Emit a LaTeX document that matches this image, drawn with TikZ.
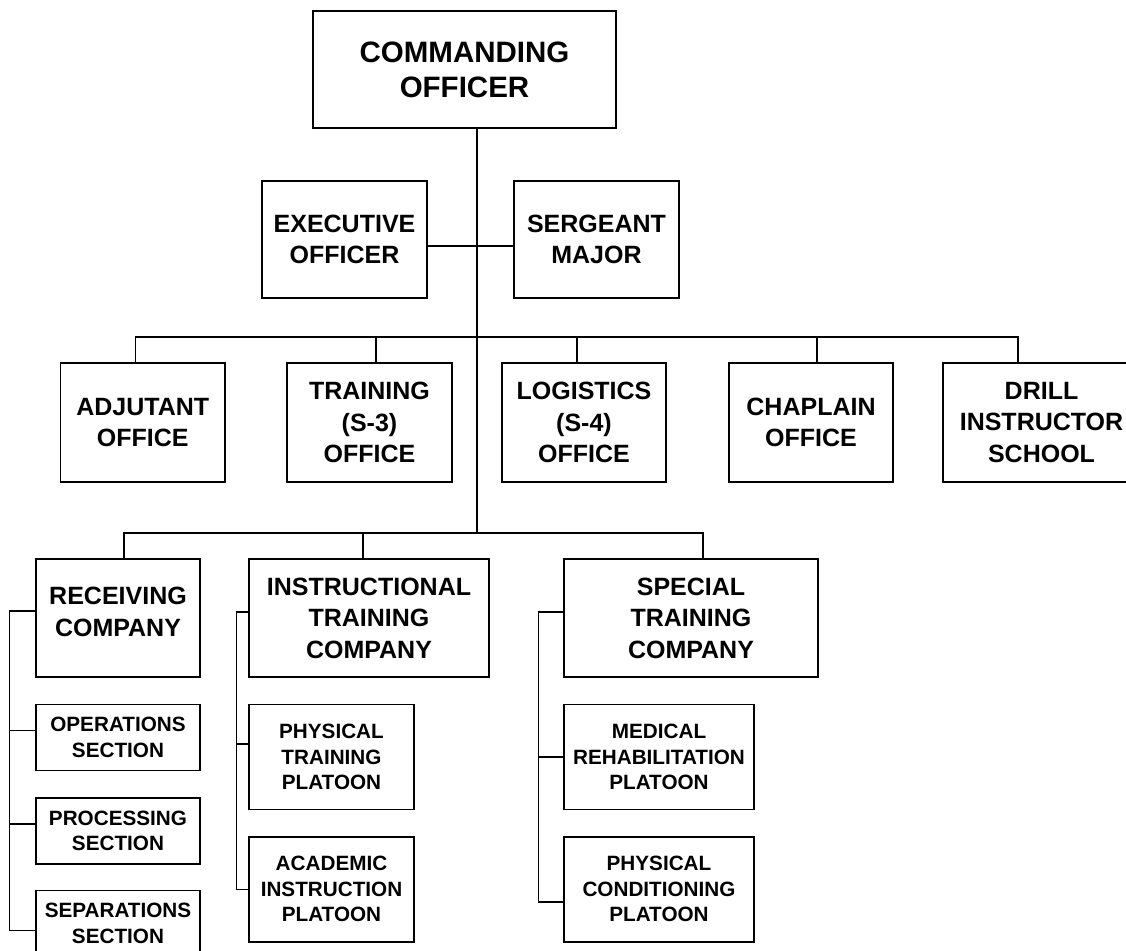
\documentclass[tikz,border=0pt]{standalone}
\usepackage{fontspec}
\setmainfont{Liberation Sans}
\usepackage{tikz}
\usetikzlibrary{positioning}

\begin{document}
\begin{tikzpicture}[x=1pt, y=-1pt, node distance=26pt, line width=1.4pt,
    unit/.style={draw, rectangle, text centered, align=center, inner sep=0pt, font=\bfseries\fontsize{25}{31.5}\selectfont},
    subunit/.style={unit, font=\bfseries\fontsize{20.7}{25.5}\selectfont}]

    \useasboundingbox (0,0) rectangle (1126,950);
    \fill[white] (0,0) rectangle (1126,950);
    \clip (0,0) rectangle (1126,950);

    % Command group
    \node (commandingOfficer) [unit, minimum width=303pt, minimum height=117pt, font=\bfseries\fontsize{29.5}{34.7}\selectfont] at (464.5,69.5) {COMMANDING\\OFFICER};
    \node (executiveOfficer) [unit, minimum width=165pt, minimum height=117pt] at (344.5,239.5) {EXECUTIVE\\OFFICER};
    \node (sergeantMajor) [unit, minimum width=165pt, minimum height=117pt] at (596.5,239.5) {SERGEANT\\MAJOR};

    % Staff offices
    \node (adjutantOffice) [unit, minimum width=164.5pt, minimum height=119pt] at (142.75,422.5) {ADJUTANT\\OFFICE};
    \node (trainingOffice) [unit, minimum width=165pt, minimum height=119pt] at (369.5,422.5) {TRAINING\\(S-3)\\OFFICE};
    \node (logisticsOffice) [unit, minimum width=164pt, minimum height=119pt] at (584,422.5) {LOGISTICS\\(S-4)\\OFFICE};
    \node (chaplainOffice) [unit, minimum width=164pt, minimum height=119pt] at (811,422.5) {CHAPLAIN\\OFFICE};
    \node (drillSchool) [unit, minimum width=197pt, minimum height=119pt] at (1041.5,422.5) {DRILL\\INSTRUCTOR\\SCHOOL};

    % Companies
    \node (receivingCompany) [unit, minimum width=164pt, minimum height=118pt, text depth=12pt] at (118,618) {RECEIVING\\COMPANY};
    \node (instructionalCompany) [unit, minimum width=240pt, minimum height=118pt] at (369,618) {INSTRUCTIONAL\\TRAINING\\COMPANY};
    \node (specialCompany) [unit, minimum width=254pt, minimum height=118pt] at (691,618) {SPECIAL\\TRAINING\\COMPANY};

    % Sections and platoons under each company
    \node (operationsSection) [subunit, minimum width=164pt, minimum height=66pt, below=of receivingCompany.south west, anchor=north west] {OPERATIONS\\SECTION};
    \node (processingSection) [subunit, minimum width=164pt, minimum height=66pt, below=of operationsSection.south west, anchor=north west] {PROCESSING\\SECTION};
    \node (separationsSection) [subunit, minimum width=164pt, minimum height=66pt, below=25pt of processingSection.south west, anchor=north west] {SEPARATIONS\\SECTION};
    \node (physicalPlatoon) [subunit, minimum width=165pt, minimum height=105pt, below=of instructionalCompany.south west, anchor=north west] {PHYSICAL\\TRAINING\\PLATOON};
    \node (academicPlatoon) [subunit, minimum width=165pt, minimum height=105pt, below=of physicalPlatoon.south west, anchor=north west] {ACADEMIC\\INSTRUCTION\\PLATOON};
    \node (medicalPlatoon) [subunit, minimum width=190pt, minimum height=105pt, below=of specialCompany.south west, anchor=north west] {MEDICAL\\REHABILITATION\\PLATOON};
    \node (conditioningPlatoon) [subunit, minimum width=190pt, minimum height=105pt, below=of medicalPlatoon.south west, anchor=north west] {PHYSICAL\\CONDITIONING\\PLATOON};

    % Trunk and branch bars
    \coordinate (staffHub) at (477,337);
    \coordinate (companyHub) at (477,533);
    \draw (commandingOfficer.south -| staffHub) -- (companyHub);
    \draw ([yshift=-6.5pt]executiveOfficer.east) -- ([yshift=-6.5pt]sergeantMajor.west);
    \draw ([xshift=-7pt]adjutantOffice.north) |- (staffHub) -| ([xshift=-23.5pt]drillSchool.north);
    \foreach \office/\dx in {trainingOffice/6.5, logisticsOffice/-7, chaplainOffice/6}
        \draw ([xshift=\dx pt]\office.north) -- ([xshift=\dx pt]\office.north |- staffHub);
    \draw ([xshift=6pt]receivingCompany.north) |- (companyHub) -| ([xshift=12pt]specialCompany.north);
    \draw ([xshift=-6pt]instructionalCompany.north) -- ([xshift=-6pt]instructionalCompany.north |- companyHub);

    % Side spines
    \draw ([yshift=7pt]receivingCompany.west) -- ++(-26,0) |- ([yshift=-7pt]separationsSection.west);
    \foreach \part in {operationsSection, processingSection}
        \draw ([yshift=7pt]\part.west) -- ++(-26,0);
    \draw ([yshift=6pt]instructionalCompany.west) -- ++(-12,0) |- (academicPlatoon.west);
    \draw ([yshift=13pt]physicalPlatoon.west) -- ++(-12,0);
    \draw ([yshift=6pt]specialCompany.west) -- ++(-25,0) |- ([yshift=-12.5pt]conditioningPlatoon.west);
    \draw (medicalPlatoon.west) -- ++(-25,0);

\end{tikzpicture}
\end{document}
